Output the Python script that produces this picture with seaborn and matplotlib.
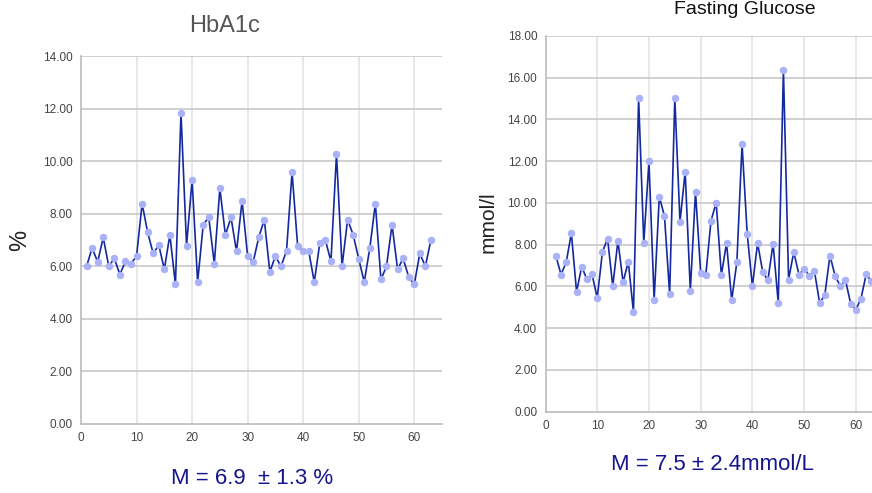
import numpy as np
import pandas as pd
import matplotlib
matplotlib.use("Agg")
import matplotlib.pyplot as plt
import seaborn as sns

# values
hba1c_x = list(range(1, 64))
hba1c = [6.0, 6.7, 6.17, 7.1, 6.0, 6.3, 5.69, 6.19, 6.1, 6.39,
         8.39, 7.29, 6.49, 6.81, 5.89, 7.2, 5.31, 11.85, 6.79, 9.29,
         5.4, 7.58, 7.87, 6.1, 8.97, 7.19, 7.87, 6.57, 8.49, 6.39,
         6.17, 7.1, 7.78, 5.79, 6.39, 6.0, 6.58, 9.58, 6.79, 6.58,
         6.58, 5.4, 6.89, 7.0, 6.19, 10.27, 6.0, 7.78, 7.2, 6.29,
         5.4, 6.7, 8.39, 5.5, 6.0, 7.58, 5.89, 6.3, 5.6, 5.31,
         6.49, 6.0, 7.0]

glu_x = list(range(2, 64))
glucose = [7.46, 6.57, 7.16, 8.55, 5.74, 6.95, 6.34, 6.58, 5.45, 7.65,
           8.29, 6.01, 8.19, 6.2, 7.19, 4.78, 15.02, 8.1, 11.99, 5.37,
           10.3, 9.37, 5.64, 15.02, 9.09, 11.5, 5.8, 10.54, 6.66, 6.57,
           9.15, 10.01, 6.54, 8.08, 5.34, 7.17, 12.82, 8.51, 6.01, 8.08,
           6.69, 6.3, 8.05, 5.21, 16.38, 6.33, 7.65, 6.57, 6.84, 6.52,
           6.73, 5.21, 5.58, 7.48, 6.5, 6.02, 6.3, 5.18, 4.88, 5.42,
           6.58, 6.25]

xticks = [0, 10, 20, 30, 40, 50, 60]
left_yticks = [0, 2, 4, 6, 8, 10, 12, 14]
right_yticks = [0, 2, 4, 6, 8, 10, 12, 14, 16, 18]

sns.set_style("white")
plt.rcParams['font.family'] = ['Liberation Sans', 'DejaVu Sans']

LINE = "#1428a0"
DOT = "#a9b1f7"
NAVY = "#14148c"


def draw(ax, x, y, yticks, ylim):
  df = pd.DataFrame({"x": x, "y": y})
  ax.set_axisbelow(True)
  for t in xticks[1:]:
    ax.axvline(t, color="#e4e4e4", lw=1.2, zorder=0)
  for t in yticks[1:]:
    ax.axhline(t, color="#c8c8c8", lw=1.2, zorder=0)
  sns.lineplot(data=df, x="x", y="y", ax=ax, color=LINE, lw=1.2,
               marker="o", markersize=4.6, markerfacecolor=DOT,
               markeredgecolor=DOT, zorder=3)
  ax.set_xlim(0, 65)
  ax.set_ylim(*ylim)
  ax.set_xticks(xticks)
  ax.set_yticks(yticks)
  ax.set_yticklabels(["%.2f" % t for t in yticks])
  ax.tick_params(axis="both", length=0, labelsize=8.5, colors="#444444", pad=6)
  for s in ["top", "right"]:
    ax.spines[s].set_visible(False)
  for s in ["left", "bottom"]:
    ax.spines[s].set_color("#bbbbbb")
    ax.spines[s].set_linewidth(1.2)
  ax.set_xlabel("")
  ax.set_ylabel("")


fig = plt.figure(figsize=(8.72, 4.93), dpi=100)
ax1 = fig.add_axes([0.0929, 0.140, 0.414, 0.746])
ax2 = fig.add_axes([0.6256, 0.165, 0.3855, 0.762])
draw(ax1, hba1c_x, hba1c, left_yticks, (0, 14))
draw(ax2, glu_x, glucose, right_yticks, (0, 18))

fig.text(225 / 872, 1 - 26 / 493, "HbA1c", ha="center", va="center",
         fontsize=17, color="#555555")
fig.text(745 / 872, 1 - 10 / 493, "Fasting Glucose", ha="center",
         va="center", fontsize=14, color="#111111")
fig.text(20 / 872, 1 - 240 / 493, "%", rotation=90, ha="center",
         va="center", fontsize=17, color="#222222")
fig.text(488 / 872, 1 - 222 / 493, "mmol/l", rotation=90, ha="center",
         va="center", fontsize=15, color="#222222")
fig.text(252 / 872, 1 - 478 / 493, "M = 6.9  \u00b1 1.3 %", ha="center",
         va="center", fontsize=16, color=NAVY)
fig.text(712 / 872, 1 - 465 / 493, "M = 7.5 \u00b1 2.4mmol/L", ha="center",
         va="center", fontsize=16, color=NAVY)

fig.savefig("out.png", dpi=100)
